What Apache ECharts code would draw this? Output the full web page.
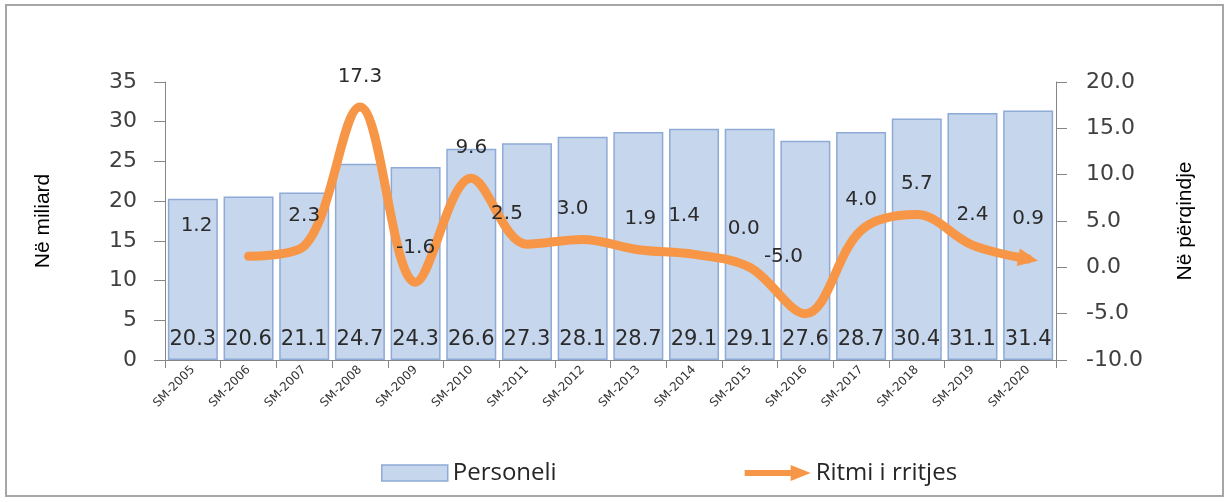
<!DOCTYPE html>
<html>
<head>
<meta charset="utf-8">
<script src="https://cdn.jsdelivr.net/npm/echarts@6/dist/echarts.min.js"></script>
<style>
html,body{margin:0;padding:0;background:#fff;}
#c{width:1231px;height:502px;}
</style>
</head>
<body>
<div id="c"></div>
<script>
const categories = ['SM-2005','SM-2006','SM-2007','SM-2008','SM-2009','SM-2010','SM-2011','SM-2012','SM-2013','SM-2014','SM-2015','SM-2016','SM-2017','SM-2018','SM-2019','SM-2020'];
const personeli = [20.3,20.6,21.1,24.7,24.3,26.6,27.3,28.1,28.7,29.1,29.1,27.6,28.7,30.4,31.1,31.4];
const ritmi = [null,1.2,2.3,17.3,-1.6,9.6,2.5,3.0,1.9,1.4,0.0,-5.0,4.0,5.7,2.4,0.9];
const leftTicks = [0,35,5];
const rightTicks = [-10,20,5];

const labelOffsets = {1:[-52,0],4:[0,-4],6:[-20,0],7:[-10,0],8:[2,0],9:[-10,-8],10:[-6,-8],11:[-22,-26]};

const lineData = ritmi.map((v,i)=>{
  if (v === null) return null;
  const item = {value: v};
  if (labelOffsets[i]) item.label = {offset: labelOffsets[i]};
  if (i === ritmi.length-1) {
    item.symbol = 'triangle';
    item.symbolSize = [18,20];
    item.symbolRotate = -100;
    item.itemStyle = {color:'#f79646'};
  }
  return item;
});

const chart = echarts.init(document.getElementById('c'));
const numFont = 'DejaVu Sans';
chart.setOption({
  animation:false,
  backgroundColor:'#fff',
  graphic:[{type:'rect',shape:{x:6,y:5,width:1217,height:491},style:{fill:'none',stroke:'#a6a6a6',lineWidth:2},z:-1}],
  grid:{left:165,right:175,top:82,bottom:142},
  legend:{
    bottom:12,left:376,itemGap:188,itemWidth:66,itemHeight:16,
    textStyle:{fontFamily:'Open Sans',fontSize:24,color:'#262626'},
    data:[
      {name:'Personeli',icon:'rect',itemStyle:{color:'#c6d6ec',borderColor:'#8eaad6',borderWidth:1.5}},
      {name:'Ritmi i rritjes',icon:'path://M0,5 L46,5 L46,0 L66,8 L46,16 L46,11 L0,11 Z',itemStyle:{color:'#f79646'}}
    ]
  },
  xAxis:{
    type:'category',data:categories,boundaryGap:true,
    axisLine:{lineStyle:{color:'#868686',width:1}},
    axisTick:{show:true,alignWithLabel:false,length:8,lineStyle:{color:'#868686'}},
    axisLabel:{rotate:45,fontFamily:numFont,fontSize:12,color:'#333',margin:8,interval:0}
  },
  yAxis:[
    {type:'value',min:leftTicks[0],max:leftTicks[1],interval:leftTicks[2],
     name:'Në miliard',nameLocation:'middle',nameRotate:90,nameGap:111,
     nameTextStyle:{fontFamily:'Liberation Sans',fontSize:21,color:'#000'},
     axisLine:{show:true,lineStyle:{color:'#868686'}},
     axisTick:{show:true,length:11,lineStyle:{color:'#868686'}},
     splitLine:{show:false},
     axisLabel:{fontFamily:numFont,fontSize:22,color:'#404040',margin:28}},
    {type:'value',min:rightTicks[0],max:rightTicks[1],interval:rightTicks[2],position:'right',
     name:'Në përqindje',nameLocation:'middle',nameRotate:90,nameGap:119,
     nameTextStyle:{fontFamily:'Liberation Sans',fontSize:21,color:'#000'},
     axisLine:{show:true,lineStyle:{color:'#868686'}},
     axisTick:{show:true,length:11,lineStyle:{color:'#868686'}},
     splitLine:{show:false},
     axisLabel:{fontFamily:numFont,fontSize:22,color:'#404040',margin:30,formatter:v=>v.toFixed(1)}}
  ],
  series:[
    {name:'Personeli',type:'bar',data:personeli,barWidth:50,
     itemStyle:{color:'#c6d6ec',borderColor:'#8eaad6',borderWidth:1.5},
     label:{show:true,position:'insideBottom',distance:10,fontFamily:numFont,fontSize:21,color:'#2b2b2b',formatter:p=>p.value.toFixed(1)},
     z:2},
    {name:'Ritmi i rritjes',type:'line',yAxisIndex:1,data:lineData,smooth:0.35,
     symbol:'circle',symbolSize:1,showSymbol:true,
     lineStyle:{color:'#f79646',width:9,cap:'round'},
     itemStyle:{color:'#f79646'},
     label:{show:true,position:'top',distance:20,fontFamily:numFont,fontSize:20,color:'#2b2b2b',formatter:p=>p.value.toFixed(1)},
     z:3}
  ]
});
</script>
</body>
</html>
